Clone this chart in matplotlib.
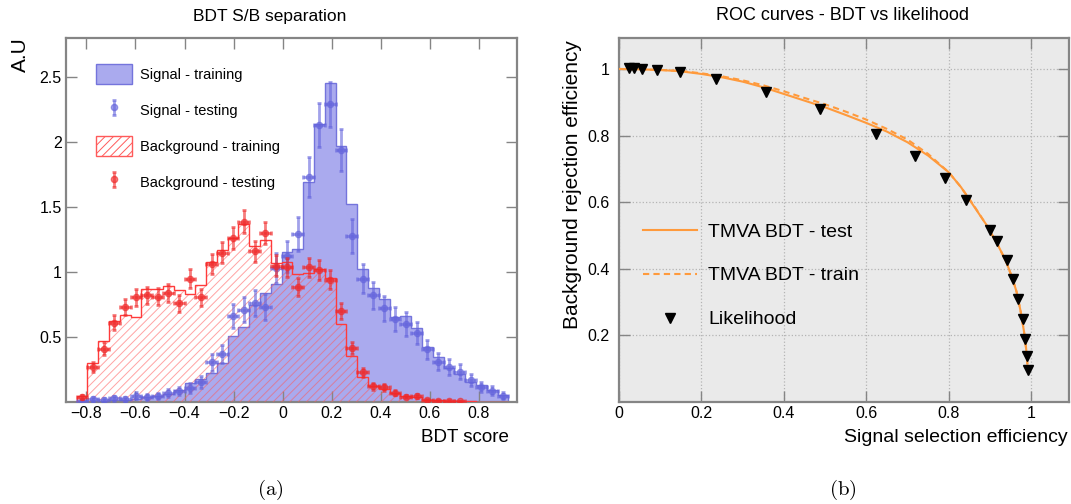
import numpy as np
import matplotlib
matplotlib.use("Agg")
import matplotlib.pyplot as plt
from matplotlib.patches import Patch

plt.rcParams['font.family'] = ['Liberation Sans', 'DejaVu Sans']
plt.rcParams['mathtext.fontset'] = 'cm'
plt.rcParams['hatch.linewidth'] = 0.7

# ---- BDT score histograms (40 bins, -0.84 .. 0.92) ----
bin_lo, bin_hi, n_bins = -0.84, 0.92, 40

sig_train = [0.005, 0.008, 0.01, 0.012, 0.012, 0.025, 0.04, 0.05, 0.065, 0.09,
             0.15, 0.175, 0.22, 0.30, 0.51, 0.575, 0.745, 0.835, 0.905, 1.155,
             1.18, 1.695, 2.14, 2.455, 1.97, 1.52, 1.02, 0.875, 0.79, 0.655,
             0.665, 0.57, 0.42, 0.345, 0.26, 0.215, 0.155, 0.13, 0.09, 0.055]
sig_test = [0.005, 0.02, 0.015, 0.03, 0.02, 0.05, 0.04, 0.045, 0.07, 0.085,
            0.11, 0.155, 0.305, 0.37, 0.66, 0.71, 0.765, 0.73, 1.03, 1.12,
            1.29, 1.73, 2.13, 2.29, 1.94, 1.28, 0.95, 0.82, 0.72, 0.64,
            0.60, 0.53, 0.405, 0.31, 0.27, 0.234, 0.169, 0.113, 0.087, 0.049]
sig_test_err = [0.008, 0.016, 0.014, 0.02, 0.016, 0.026, 0.023, 0.024, 0.03, 0.034,
                0.038, 0.045, 0.064, 0.07, 0.093, 0.097, 0.10, 0.098, 0.117, 0.122,
                0.13, 0.151, 0.168, 0.174, 0.16, 0.13, 0.112, 0.104, 0.098, 0.092,
                0.089, 0.084, 0.073, 0.064, 0.06, 0.056, 0.047, 0.039, 0.034, 0.025]
bkg_train = [0.045, 0.30, 0.47, 0.62, 0.67, 0.655, 0.87, 0.87, 0.89, 0.86,
             0.83, 0.90, 1.08, 1.17, 1.26, 1.37, 1.20, 1.25, 1.07, 1.075,
             0.985, 0.99, 1.02, 0.955, 0.60, 0.353, 0.195, 0.125, 0.10, 0.068,
             0.05, 0.04, 0.018, 0.015, 0.01, 0.008, 0.004, 0.003, 0.003, 0.002]
bkg_test = [0.04, 0.27, 0.41, 0.61, 0.73, 0.805, 0.82, 0.81, 0.835, 0.76,
            0.95, 0.806, 1.06, 1.15, 1.26, 1.387, 1.16, 1.30, 1.05, 1.035,
            0.885, 1.035, 1.015, 0.94, 0.70, 0.415, 0.227, 0.12, 0.112, 0.072,
            0.042, 0.045, 0.015, 0.01, 0.008, 0.005, 0, 0, 0, 0]
bkg_test_err = [0.015, 0.039, 0.048, 0.059, 0.064, 0.067, 0.068, 0.067, 0.069, 0.065,
                0.073, 0.067, 0.077, 0.08, 0.084, 0.088, 0.081, 0.086, 0.077, 0.076,
                0.071, 0.076, 0.076, 0.073, 0.063, 0.048, 0.036, 0.026, 0.025, 0.02,
                0.015, 0.016, 0.009, 0.008, 0.007, 0.005, 0, 0, 0, 0]

hist_xticks = [-0.8, -0.6, -0.4, -0.2, 0, 0.2, 0.4, 0.6, 0.8]
hist_xlabels = ['\u22120.8', '\u22120.6', '\u22120.4', '\u22120.2', '0', '0.2', '0.4', '0.6', '0.8']
hist_yticks = [0.5, 1, 1.5, 2, 2.5]
hist_ylabels = ['0.5', '1', '1.5', '2', '2.5']

# ---- ROC curves ----
roc_sig = [0.0, 0.05, 0.1, 0.15, 0.2, 0.25, 0.3, 0.35, 0.4, 0.45, 0.5, 0.55, 0.6, 0.65,
           0.7, 0.75, 0.8, 0.83, 0.86, 0.89, 0.92, 0.94, 0.955, 0.965, 0.975, 0.983, 0.988, 0.991]
roc_test = [1.0, 0.999, 0.997, 0.993, 0.985, 0.975, 0.962, 0.945, 0.925, 0.905, 0.885, 0.862,
            0.838, 0.812, 0.78, 0.74, 0.69, 0.645, 0.59, 0.535, 0.47, 0.42, 0.37, 0.33,
            0.27, 0.21, 0.16, 0.115]
roc_train = [1.0, 0.999, 0.997, 0.994, 0.987, 0.978, 0.966, 0.951, 0.933, 0.913, 0.894, 0.872,
             0.848, 0.82, 0.788, 0.745, 0.69, 0.645, 0.592, 0.535, 0.47, 0.42, 0.37, 0.33,
             0.27, 0.21, 0.16, 0.115]
lik_sig = [0.024, 0.037, 0.056, 0.093, 0.148, 0.235, 0.357, 0.488, 0.624, 0.719, 0.79,
           0.843, 0.901, 0.917, 0.941, 0.957, 0.969, 0.98, 0.986, 0.99, 0.993]
lik_bkg = [1.003, 1.003, 1.0, 0.997, 0.99, 0.97, 0.932, 0.88, 0.806, 0.738, 0.673,
           0.608, 0.515, 0.483, 0.425, 0.368, 0.31, 0.248, 0.19, 0.138, 0.096]
roc_ticks = [0, 0.2, 0.4, 0.6, 0.8, 1]
roc_xlabels = ['0', '0.2', '0.4', '0.6', '0.8', '1']
roc_yticks = [0.2, 0.4, 0.6, 0.8, 1]
roc_ylabels = ['0.2', '0.4', '0.6', '0.8', '1']

blue_fill = '#aaaaee'
blue_edge = '#7474dc'
blue_pt = '#6464dc'
red_line = '#ff3b3b'
red_pt = '#f02828'
orange = '#ff9a3c'
frame_col = '#858585'

W, H = 1071, 504
fig = plt.figure(figsize=(W / 100, H / 100), dpi=100)


def frac(x0, y0, x1, y1):
    return [x0 / W, 1 - y1 / H, (x1 - x0) / W, (y1 - y0) / H]


ax1 = fig.add_axes(frac(66, 38, 517, 402))
ax2 = fig.add_axes(frac(619, 38, 1069, 402))

for ax in (ax1, ax2):
    for s in ax.spines.values():
        s.set_color(frame_col)
        s.set_linewidth(1.6)
    ax.tick_params(direction='in', length=8, width=1, color=frame_col,
                   top=True, right=True, labelsize=11.5, pad=3)

# ---- left panel ----
edges = np.linspace(bin_lo, bin_hi, n_bins + 1)
centers = 0.5 * (edges[:-1] + edges[1:])
half = 0.5 * (edges[1] - edges[0])

ax1.stairs(sig_train, edges, fill=True, facecolor=blue_fill, edgecolor='none', zorder=1)
ax1.stairs(sig_train, edges, color=blue_edge, linewidth=1.0, zorder=2)
ax1.stairs(bkg_train, edges, fill=True, facecolor='none', edgecolor=(1, 0.35, 0.35, 0.55),
           hatch='////', linewidth=0, zorder=3)
ax1.stairs(bkg_train, edges, color=red_line, linewidth=1.0, zorder=4)

ax1.errorbar(centers, sig_test, xerr=half, yerr=sig_test_err, fmt='o', ms=4.5,
             color=blue_pt, alpha=0.6, elinewidth=2, capsize=1.2, capthick=2, zorder=5)
bt = np.array(bkg_test)
m = bt > 0
ax1.errorbar(centers[m], bt[m], xerr=half, yerr=np.array(bkg_test_err)[m], fmt='o', ms=4.5,
             color=red_pt, alpha=0.6, elinewidth=2, capsize=1.2, capthick=2, zorder=6)

ax1.set_xlim(-0.883, 0.955)
ax1.set_ylim(0, 2.8)
ax1.set_xticks(hist_xticks)
ax1.set_xticklabels(hist_xlabels)
ax1.set_yticks(hist_yticks)
ax1.set_yticklabels(hist_ylabels)

h_sig_tr = Patch(facecolor=blue_fill, edgecolor=blue_edge)
h_sig_te = ax1.errorbar([np.nan], [np.nan], yerr=[np.nan], fmt='o', ms=4.5, color=blue_pt,
                        alpha=0.6, elinewidth=2, capsize=1.5, capthick=2)
h_bkg_tr = Patch(facecolor='white', edgecolor='#ff5a5a', hatch='////')
h_bkg_te = ax1.errorbar([np.nan], [np.nan], yerr=[np.nan], fmt='o', ms=4.5, color=red_pt,
                        alpha=0.6, elinewidth=2, capsize=1.5, capthick=2)
ax1.legend([h_sig_tr, h_sig_te, h_bkg_tr, h_bkg_te],
           ['Signal - training', 'Signal - testing', 'Background - training', 'Background - testing'],
           loc='upper left', bbox_to_anchor=((96 - 66) / 451, 1 - (64 - 38) / 364),
           borderaxespad=0, borderpad=0, frameon=False, fontsize=10.5,
           handlelength=2.5, handleheight=1.7, labelspacing=1.12, handletextpad=0.55)

# ---- right panel ----
ax2.set_facecolor('#eaeaea')
ax2.grid(True, color='#b4b4b4', linestyle=':', linewidth=0.9)
ax2.set_axisbelow(True)
ax2.plot(roc_sig, roc_test, color=orange, linewidth=1.5, label='TMVA BDT - test', zorder=3)
ax2.plot(roc_sig, roc_train, color=orange, linewidth=1.5, linestyle='--', dashes=(3, 2),
         label='TMVA BDT - train', zorder=3)
ax2.plot(lik_sig, lik_bkg, linestyle='none', marker='v', color='black', ms=6.5,
         label='Likelihood', zorder=4)
ax2.set_xlim(0, 1.092)
ax2.set_ylim(0, 1.093)
ax2.set_xticks(roc_ticks)
ax2.set_xticklabels(roc_xlabels)
ax2.set_yticks(roc_yticks)
ax2.set_yticklabels(roc_ylabels)
ax2.tick_params(axis='y', pad=7)
ax2.legend(loc='upper left', bbox_to_anchor=((643 - 619) / 450, 1 - (223 - 38) / 364),
           borderaxespad=0, borderpad=0, frameon=False, fontsize=14,
           handlelength=2.8, labelspacing=1.35, handletextpad=0.55)

# ---- labels and captions ----
fig.text(270 / W, 1 - 16 / H, 'BDT S/B separation', ha='center', va='center', fontsize=12.5)
fig.text(842 / W, 1 - 16 / H, 'ROC curves - BDT vs likelihood', ha='center', va='center', fontsize=13)
fig.text(20 / W, 1 - 37 / H, 'A.U', rotation=90, ha='center', va='top', fontsize=15)
fig.text(509 / W, 1 - 438 / H, 'BDT score', ha='right', va='center', fontsize=13.5)
fig.text(1068 / W, 1 - 437 / H, 'Signal selection efficiency', ha='right', va='center', fontsize=14)
fig.text(573 / W, 1 - 40 / H, 'Background rejection efficiency', rotation=90,
         ha='center', va='top', fontsize=15)
fig.text(270 / W, 1 - 490 / H, r'$\mathrm{(a)}$', ha='center', va='center', fontsize=15)
fig.text(843 / W, 1 - 490 / H, r'$\mathrm{(b)}$', ha='center', va='center', fontsize=15)

fig.savefig('out.png', dpi=100)
